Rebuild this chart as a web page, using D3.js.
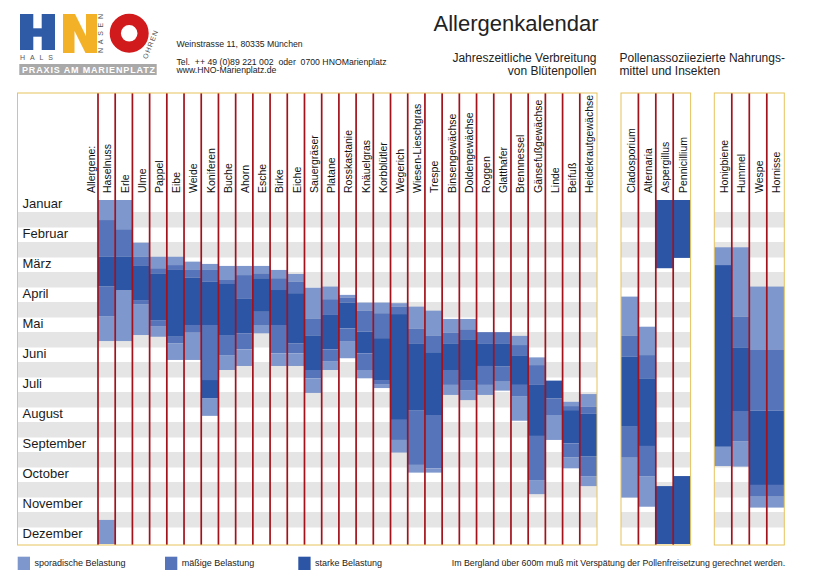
<!DOCTYPE html>
<html><head><meta charset="utf-8">
<script src="https://cdn.jsdelivr.net/npm/d3@7"></script>
<style>
body{margin:0;background:#fff;}
svg{display:block;font-family:"Liberation Sans",Arial,Helvetica,sans-serif;}
</style></head><body>
<svg id="c" width="831" height="585"></svg>
<script>
// ---------- DATA (months as fractional month index, 0 = 1 Jan, 12 = 31 Dec) ----------
const months = ["Januar","Februar","März","April","Mai","Juni","Juli","August","September","October","November","Dezember"];

const pollen = ["Haselnuss","Erle","Ulme","Pappel","Eibe","Weide","Koniferen","Buche","Ahorn","Esche","Birke","Eiche",
  "Sauergräser","Platane","Rosskastanie","Knäuelgras","Korbblütler","Wegerich","Wiesen-Lieschgras","Trespe",
  "Binsengewächse","Doldengewächse","Roggen","Glatthafer","Brennnessel","Gänsefußgewächse","Linde","Beifuß","Heidekrautgewächse"];

// segments: [start, end, level]  level 1 = sporadisch, 2 = mäßig, 3 = stark
const pollenBars = [
  [[0,0.70,1],[0.70,1.98,2],[1.98,3.02,3],[3.02,4.05,2],[4.05,4.92,1],[11.16,12,1]],
  [[0,1.02,1],[1.02,1.98,2],[1.98,3.14,3],[3.14,4.92,1]],
  [[1.49,1.98,1],[1.98,2.30,2],[2.30,3.49,3],[3.49,3.63,2],[3.63,4.71,1]],
  [[1.98,2.38,1],[2.38,2.56,2],[2.56,4.19,3],[4.19,4.42,2],[4.42,4.77,1]],
  [[1.98,2.27,1],[2.27,2.44,2],[2.44,4.77,3],[4.77,5.00,2],[5.00,5.58,1]],
  [[2.15,2.44,1],[2.44,2.71,2],[2.71,4.36,3],[4.36,4.63,2],[4.63,5.58,1]],
  [[2.23,2.44,1],[2.44,2.85,2],[2.85,4.36,3],[4.36,6.28,2],[6.28,6.91,3],[6.91,7.53,1]],
  [[2.30,2.79,1],[2.79,2.93,2],[2.93,4.71,3],[4.71,5.41,2],[5.41,5.93,1]],
  [[2.30,2.62,1],[2.62,3.43,2],[3.43,4.65,3],[4.65,5.21,2],[5.21,5.79,1]],
  [[2.30,2.56,1],[2.56,2.73,2],[2.73,3.90,3],[3.90,4.36,2],[4.36,4.65,1]],
  [[2.44,2.73,1],[2.73,3.14,2],[3.14,4.36,3],[4.36,5.35,2],[5.35,5.79,1]],
  [[2.58,2.85,1],[2.85,3.25,2],[3.25,5.00,3],[5.00,5.35,2],[5.35,5.79,1]],
  [[3.06,4.13,1],[4.13,4.74,2],[4.74,5.93,3],[5.93,6.22,2],[6.22,6.73,1]],
  [[3.02,3.46,1],[3.46,4.01,2],[4.01,5.21,3],[5.21,5.64,2],[5.64,5.93,1]],
  [[3.31,3.40,1],[3.40,3.58,2],[3.58,4.48,3],[4.48,4.92,2],[4.92,5.52,1]],
  [[3.58,3.86,1],[3.86,4.59,2],[4.59,5.35,3],[5.35,5.93,2],[5.93,6.22,1]],
  [[3.58,3.95,1],[3.95,4.82,2],[4.82,6.28,3],[6.28,6.42,2],[6.42,6.56,1]],
  [[3.60,3.72,1],[3.72,3.98,2],[3.98,7.67,3],[7.67,8.37,2],[8.37,8.81,1]],
  [[3.72,4.48,1],[4.48,5.02,2],[5.02,7.35,3],[7.35,9.24,2],[9.24,9.51,1]],
  [[3.86,4.74,1],[4.74,5.31,2],[5.31,7.50,3],[7.50,9.36,2],[9.36,9.51,1]],
  [[4.15,4.63,1],[4.63,5.02,2],[5.02,5.93,3],[5.93,6.45,2],[6.45,6.80,1]],
  [[4.15,4.51,1],[4.51,4.86,2],[4.86,6.28,3],[6.28,6.63,2],[6.63,6.98,1]],
  [[4.61,5.02,2],[5.02,5.79,3],[5.79,6.45,2],[6.45,6.80,1]],
  [[4.61,5.02,2],[5.02,5.81,3],[5.81,6.34,2],[6.34,6.65,1]],
  [[4.74,5.06,1],[5.06,5.44,2],[5.44,6.45,3],[6.45,6.84,2],[6.84,7.70,1]],
  [[5.49,5.76,1],[5.76,6.45,2],[6.45,8.23,3],[8.23,9.77,2],[9.77,10.26,1]],
  [[6.30,6.92,3],[6.92,7.50,2],[7.50,8.37,1]],
  [[7.04,7.19,1],[7.19,7.33,2],[7.33,8.49,3],[8.49,8.98,2],[8.98,9.36,1]],
  [[6.77,7.21,1],[7.21,7.46,2],[7.46,8.95,3],[8.95,9.65,2],[9.65,9.98,1]]
];

const molds = ["Cladosporium","Alternaria","Aspergillus","Pennicillium"];
const moldBars = [
  [[3.37,4.73,1],[4.73,5.47,2],[5.47,7.91,3],[7.91,8.99,2],[8.99,10.38,1]],
  [[4.42,5.41,1],[5.41,6.22,2],[6.22,8.58,3],[8.58,9.65,2],[9.65,10.70,1]],
  [[0,2.38,3],[9.98,12,3]],
  [[0,2.02,3],[9.63,12,3]]
];

const insects = ["Honigbiene","Hummel","Wespe","Hornisse"];
const insectBars = [
  [[1.65,2.27,1],[2.27,8.61,3],[8.61,9.28,1]],
  [[1.65,4.07,1],[4.07,5.14,2],[5.14,7.36,3],[7.36,8.43,2],[8.43,9.30,1]],
  [[3.02,5.21,1],[5.21,7.35,2],[7.35,9.94,3],[9.94,10.35,2],[10.35,10.73,1]],
  [[3.02,5.21,1],[5.21,7.35,2],[7.35,9.94,3],[9.94,10.35,2],[10.35,10.73,1]]
];

const levelLabels = ["sporadische Belastung","mäßige Belastung","starke Belastung"];
const levelColors = ["#7e97cc","#5674b9","#2d55a6"];

// ---------- DRAW ----------
const svg = d3.select("#c");
const TOP = 93, BOTTOM = 545;
const y = d3.scaleLinear().domain([0,12]).range([200,544]);
const rowY = d3.scaleBand().domain(months).range([197,557]);
const color = d3.scaleOrdinal().domain([1,2,3]).range(levelColors);
const RED = "#a3111a", YEL = "#e6c35c", STRIPE = "#e5e5e5";

const panels = [
  {names: pollen, bars: pollenBars, boxX0: 17.5, x0: 98, x1: 597, leftRed: true},
  {names: molds, bars: moldBars, boxX0: 621, x0: 621, x1: 690.6, leftRed: false},
  {names: insects, bars: insectBars, boxX0: 714.3, x0: 714.3, x1: 784.3, leftRed: false}
];

panels.forEach(p => {
  const g = svg.append("g");
  const x = d3.scaleBand().domain(p.names).range([p.x0, p.x1]).padding(0);
  g.append("rect").attr("x",p.boxX0).attr("y",TOP).attr("width",p.x1-p.boxX0).attr("height",BOTTOM-TOP).attr("fill","#fff");
  g.selectAll("rect.stripe").data(months.slice(0,11)).join("rect").attr("class","stripe")
    .attr("x",p.boxX0).attr("width",p.x1-p.boxX0)
    .attr("y",d=>rowY(d)+rowY.bandwidth()/2).attr("height",rowY.bandwidth()/2+0.5)
    .attr("fill",STRIPE);
  p.names.forEach((n,i) => {
    g.selectAll(null).data(p.bars[i]).join("rect")
      .attr("x",x(n)).attr("width",x.bandwidth())
      .attr("y",d=>y(d[0])).attr("height",d=>y(d[1])-y(d[0]))
      .attr("fill",d=>color(d[2]));
  });
  const lineNames = p.leftRed ? p.names : p.names.slice(1);
  g.selectAll("line.sep").data(lineNames).join("line").attr("class","sep")
    .attr("x1",d=>x(d)).attr("x2",d=>x(d)).attr("y1",TOP).attr("y2",BOTTOM)
    .attr("stroke",RED).attr("stroke-width",1.7);
  g.append("rect").attr("x",p.boxX0).attr("y",TOP).attr("width",p.x1-p.boxX0).attr("height",BOTTOM-TOP)
    .attr("fill","none").attr("stroke",YEL).attr("stroke-width",1);
  g.selectAll("text.col").data(p.names).join("text").attr("class","col")
    .attr("transform",d=>`translate(${x(d)+x.bandwidth()/2+4.8},193) rotate(-90)`)
    .attr("font-size",10.5).attr("fill","#111").text(d=>d);
});

svg.append("text").attr("transform","translate(94.5,193) rotate(-90)")
  .attr("font-size",10.5).attr("fill","#111").text("Allergene:");
svg.selectAll("text.month").data(months).join("text").attr("class","month")
  .attr("x",22.5).attr("y",d=>rowY(d)+11).attr("font-size",13).attr("fill","#1a1a1a").text(d=>d);

svg.append("text").attr("x",433.5).attr("y",31).attr("font-size",22).attr("fill","#222").text("Allergenkalendar");
svg.append("text").attr("x",596.5).attr("y",61.5).attr("text-anchor","end").attr("font-size",12).attr("fill","#222").text("Jahreszeitliche Verbreitung");
svg.append("text").attr("x",596.5).attr("y",75).attr("text-anchor","end").attr("font-size",12).attr("fill","#222").text("von Blütenpollen");
svg.append("text").attr("x",619.5).attr("y",61.5).attr("font-size",12).attr("fill","#222").text("Pollenassoziiezierte Nahrungs-");
svg.append("text").attr("x",619.5).attr("y",75).attr("font-size",12).attr("fill","#222").text("mittel und Insekten");

const addr = svg.append("g").attr("font-size",8.7).attr("fill","#222");
addr.append("text").attr("x",176.5).attr("y",46.5).text("Weinstrasse 11, 80335 München");
addr.append("text").attr("x",176.5).attr("y",64.5).attr("xml:space","preserve").style("white-space","pre")
  .text("Tel.  ++ 49 (0)89 221 002  oder  0700 HNOMarienplatz");
addr.append("text").attr("x",176.5).attr("y",73.3).text("www.HNO-Marienplatz.de");

const logo = svg.append("g");
const BLUE = "#2f5aa6", ORANGE = "#f3b128", LRED = "#d01a1c";
logo.append("rect").attr("x",20).attr("y",14).attr("width",13.3).attr("height",36).attr("fill",BLUE);
logo.append("rect").attr("x",41.7).attr("y",14).attr("width",13.3).attr("height",36).attr("fill",BLUE);
logo.append("rect").attr("x",33).attr("y",28.3).attr("width",9).attr("height",8.4).attr("fill",BLUE);
logo.append("path").attr("d","M63,53 L63,14 L75,14 L86,36 L86,14 L97,14 L97,53 L85.5,53 L74.5,31 L74.5,53 Z").attr("fill",ORANGE);
logo.append("circle").attr("cx",129.2).attr("cy",33.3).attr("r",13.9).attr("fill","none").attr("stroke",LRED).attr("stroke-width",11.2);
logo.append("text").attr("transform","translate(103.3,53) rotate(-90)").attr("font-size",7).attr("fill","#555")
  .attr("textLength",39).attr("lengthAdjust","spacing").text("NASEN");
logo.append("text").attr("transform","translate(147,59.5) rotate(-68)").attr("font-size",7).attr("fill","#555")
  .attr("textLength",30).attr("lengthAdjust","spacing").text("OHREN");
logo.append("text").attr("x",20).attr("y",60).attr("font-size",7).attr("fill","#555")
  .attr("textLength",33).attr("lengthAdjust","spacing").text("HALS");
logo.append("rect").attr("x",19.3).attr("y",64).attr("width",137.4).attr("height",11).attr("fill","#a9a9a9");
logo.append("text").attr("x",22).attr("y",73).attr("font-size",9).attr("font-weight","bold").attr("fill","#fff")
  .attr("textLength",133).attr("lengthAdjust","spacing").text("PRAXIS AM MARIENPLATZ");

const lx = [17.7,165,298.3];
const lg = svg.selectAll("g.leg").data(levelLabels).join("g").attr("class","leg")
  .attr("transform",(d,i)=>`translate(${lx[i]},556.7)`);
lg.append("rect").attr("width",12.3).attr("height",13.3).attr("fill",(d,i)=>levelColors[i]);
lg.append("text").attr("x",16.7).attr("y",9).attr("font-size",9).attr("fill","#222").text(d=>d);
svg.append("text").attr("x",451.7).attr("y",565.7).attr("font-size",8.8).attr("fill","#222")
  .text("Im Bergland über 600m muß mit Verspätung der Pollenfreisetzung gerechnet werden.");
</script>
</body></html>
